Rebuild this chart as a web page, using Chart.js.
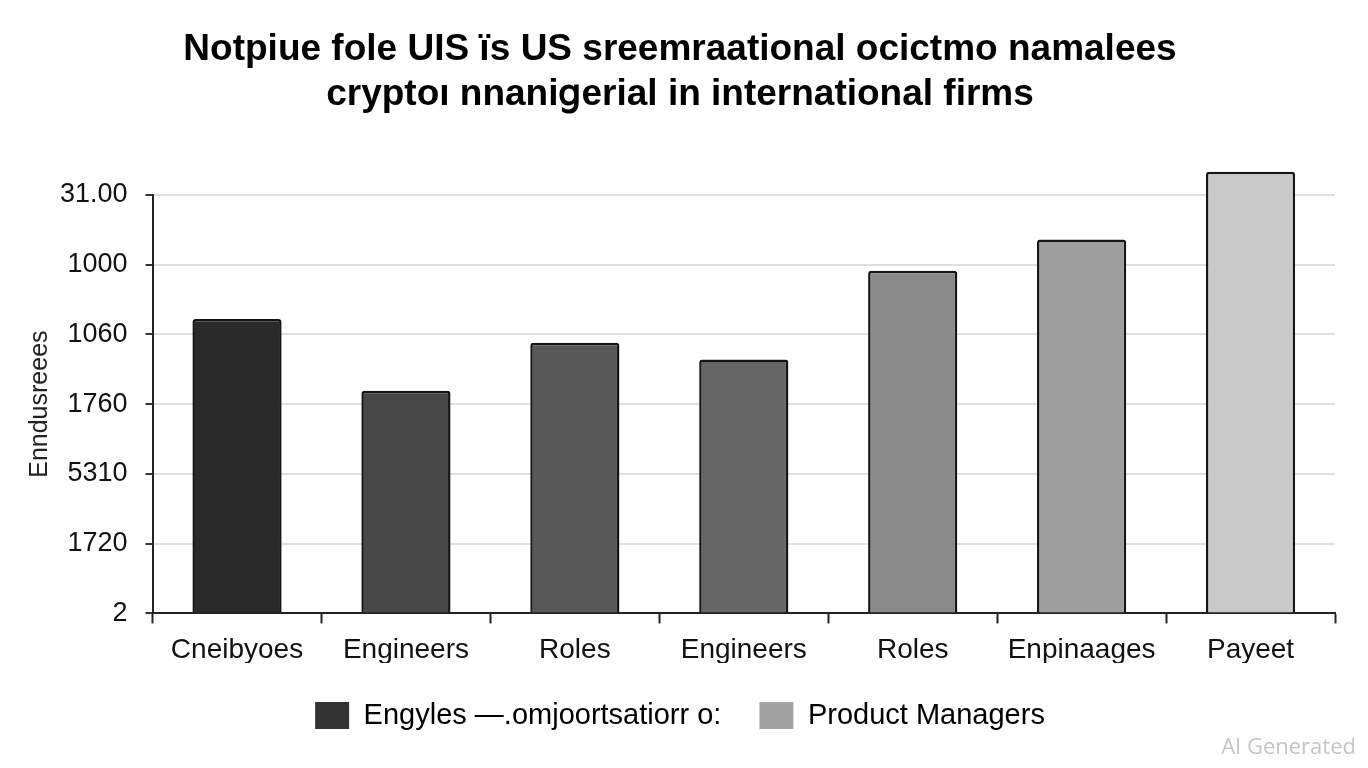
<!DOCTYPE html>
<html>
<head>
<meta charset="utf-8">
<script src="https://cdn.jsdelivr.net/npm/chart.js@4"></script>
<style>
  html, body { margin: 0; padding: 0; background: #fff; }
  #wrap { position: relative; width: 1368px; height: 768px; }
  #mark { position: absolute; right: 12px; bottom: 8px; font: 22px "Open Sans", sans-serif; color: #c4c4c4; }
</style>
</head>
<body>
<div id="wrap">
  <canvas id="barChart" width="1368" height="768"></canvas>
  <div id="mark">AI Generated</div>
</div>
<script>
// data (bar heights in tick steps, the axis labels are what the picture prints)
const categories = ['Cneibyoes', 'Engineers', 'Roles', 'Engineers', 'Roles', 'Enpinaages', 'Payeet'];
const values = [4.22, 3.19, 3.88, 3.64, 4.91, 5.36, 6.33];
const barColors = ['#2a2a2a', '#474747', '#585858', '#656565', '#898989', '#9e9e9e', '#c9c9c9'];
const yTickLabels = ['2', '1720', '5310', '1760', '1060', '1000', '31.00'];
const legendLabels = ['Engyles \u2014.omjoortsatiorr o:', 'Product Managers'];
const legendColors = ['#333333', '#a3a3a3'];
const titleLines = ['Notpiue fole UIS \u0457s US sreemraational ocictmo namalees', 'crypto\u0131 nnaniցerial in international firms'];

const ctx = document.getElementById('barChart').getContext('2d');

new Chart(ctx, {
    type: 'bar',
    data: {
        labels: categories,
        datasets: [{
            label: 'Roles',
            data: values,
            backgroundColor: barColors,
            borderColor: '#151515',
            borderWidth: 2.5,
            borderRadius: 3,
            barPercentage: 0.66,
            categoryPercentage: 0.8,
            clip: false // last bar goes above the top tick, like in the picture
        }]
    },
    options: {
        responsive: false,
        animation: false,
        layout: { padding: { left: 25, right: 33, top: 28, bottom: 28 } },
        plugins: {
            title: {
                display: true,
                text: titleLines,
                color: '#000',
                font: { family: 'Liberation Sans', size: 37, weight: 'bold', lineHeight: 1.2 },
                padding: { top: 0, bottom: 78 }
            },
            legend: {
                position: 'bottom',
                labels: {
                    boxWidth: 34,
                    boxHeight: 27,
                    padding: 38,
                    color: '#111',
                    font: { family: 'Liberation Sans', size: 29 },
                    generateLabels: () => legendLabels.map((t, i) => ({
                        text: t,
                        fillStyle: legendColors[i],
                        strokeStyle: legendColors[i],
                        lineWidth: 0,
                        datasetIndex: 0
                    }))
                },
                onClick: null
            },
            tooltip: { enabled: false }
        },
        scales: {
            x: {
                afterFit: axis => { axis.height -= 14; },
                grid: { display: true, drawOnChartArea: false, offset: true, tickLength: 10, tickColor: '#222', tickWidth: 2 },
                border: { color: '#222', width: 2 },
                ticks: { color: '#111', padding: 10, font: { family: 'Liberation Sans', size: 28 } }
            },
            y: {
                min: 0,
                max: 6,
                afterFit: axis => { axis.width -= 18; },
                grid: { color: '#dedede', lineWidth: 2, tickLength: 7, tickColor: '#333' },
                border: { color: '#222', width: 2 },
                ticks: {
                    stepSize: 1,
                    padding: 18,
                    color: '#111',
                    font: { family: 'Liberation Sans', size: 27 },
                    callback: v => yTickLabels[v]
                },
                title: {
                    display: true,
                    text: 'Enndusreees',
                    color: '#222',
                    font: { family: 'Liberation Sans', size: 25 },
                    padding: { top: 0, bottom: 5 }
                }
            }
        }
    }
});
</script>
</body>
</html>
